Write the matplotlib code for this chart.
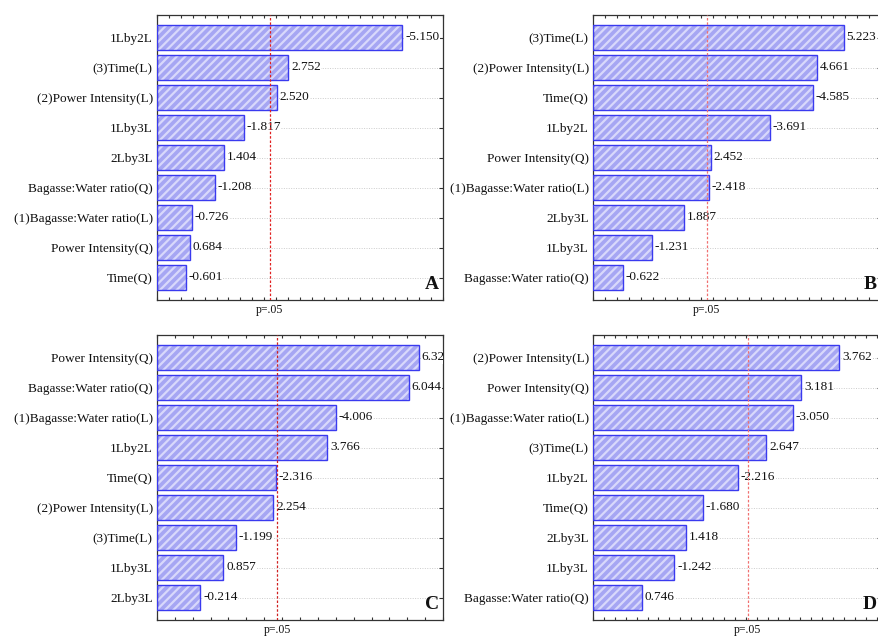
import numpy as np
import matplotlib
matplotlib.use("Agg")
import matplotlib.pyplot as plt

plt.rcParams['font.family'] = ['Liberation Serif', 'DejaVu Serif']
plt.rcParams['hatch.linewidth'] = 1.6

# Standardized effect estimates (signed) for the four responses
labels_a = ["1Lby2L", "(3)Time(L)", "(2)Power Intensity(L)", "1Lby3L", "2Lby3L",
            "Bagasse:Water ratio(Q)", "(1)Bagasse:Water ratio(L)", "Power Intensity(Q)", "Time(Q)"]
effects_a = [-5.150, 2.752, 2.520, -1.817, 1.404, -1.208, -0.726, 0.684, -0.601]

labels_b = ["(3)Time(L)", "(2)Power Intensity(L)", "Time(Q)", "1Lby2L", "Power Intensity(Q)",
            "(1)Bagasse:Water ratio(L)", "2Lby3L", "1Lby3L", "Bagasse:Water ratio(Q)"]
effects_b = [5.223, 4.661, -4.585, -3.691, 2.452, -2.418, 1.887, -1.231, -0.622]

labels_c = ["Power Intensity(Q)", "Bagasse:Water ratio(Q)", "(1)Bagasse:Water ratio(L)", "1Lby2L",
            "Time(Q)", "(2)Power Intensity(L)", "(3)Time(L)", "1Lby3L", "2Lby3L"]
effects_c = [6.328, 6.044, -4.006, 3.766, -2.316, 2.254, -1.199, 0.857, -0.214]

labels_d = ["(2)Power Intensity(L)", "Power Intensity(Q)", "(1)Bagasse:Water ratio(L)", "(3)Time(L)",
            "1Lby2L", "Time(Q)", "2Lby3L", "1Lby3L", "Bagasse:Water ratio(Q)"]
effects_d = [3.762, 3.181, -3.050, 2.647, -2.216, -1.680, 1.418, -1.242, 0.746]

p_crit = 2.365  # t critical value at p = .05

W, H = 879, 637
fig = plt.figure(figsize=(W / 100, H / 100), dpi=100)
fig.patch.set_facecolor('white')


def box(l, r, t, b):
    return [l / W, 1 - b / H, (r - l) / W, (b - t) / H]


panels = [
    ("A", labels_a, effects_a, (0, 6), 0.25, box(157, 443, 15, 300), '#e02020'),
    ("B", labels_b, effects_b, (0, 6), 0.25, box(593, 881, 15, 300), '#f07070'),
    ("C", labels_c, effects_c, (-1, 7), 0.5, box(157, 443, 335, 620), '#d02020'),
    ("D", labels_d, effects_d, (0, 4.4), 1 / 6, box(593, 881, 335, 620), '#f07070'),
]

face = '#a6a6f3'
edge = '#3a3aef'
hatch_col = '#d8d8fb'

for letter, labels, effects, xlim, tstep, pos, pcol in panels:
    ax = fig.add_axes(pos)
    n = len(labels)
    y = np.arange(n)
    mags = np.abs(effects)
    x0 = xlim[0]

    # grid lines behind bars
    for yi in y:
        ax.axhline(yi, color='#cccccc', lw=0.7, ls=(0, (1, 1.5)), zorder=0)

    ax.barh(y, mags - x0, left=x0, height=0.82, color=face, edgecolor='none', zorder=2)
    ax.barh(y, mags - x0, left=x0, height=0.82, color='none', edgecolor=hatch_col,
            hatch='////', lw=0, zorder=3)
    ax.barh(y, mags - x0, left=x0, height=0.82, color='none', edgecolor=edge, lw=1.0, zorder=4)

    for yi, m, v in zip(y, mags, effects):
        ax.annotate(f"{v:.3f}", xy=(m, yi), xytext=(2, 0), textcoords='offset points',
                    va='center', ha='left', fontsize=9.5, color='#111111', zorder=5,
                    annotation_clip=False, clip_on=True,
                    bbox=dict(facecolor='white', edgecolor='none', pad=0.3))

    ax.axvline(p_crit, color=pcol, lw=0.9, ls=(0, (2, 1.5)), zorder=6)

    ax.set_xlim(*xlim)
    ax.set_ylim(n - 0.25, -0.75)
    ax.set_yticks(y)
    ax.set_yticklabels(labels, fontsize=9.5, color='#111111')
    ticks = np.arange(xlim[0], xlim[1] + 1e-6, tstep)
    ax.set_xticks(ticks)
    ax.set_xticklabels([])
    ax.tick_params(axis='x', which='both', direction='in', length=2.5, width=0.8,
                   top=True, bottom=True, color='#333333')
    ax.tick_params(axis='y', which='both', direction='in', length=3, width=0.8,
                   left=True, right=True, color='#333333', pad=3)
    for s in ax.spines.values():
        s.set_color('#333333')
        s.set_linewidth(0.9)

    ax.text(0.985, 0.025, letter, transform=ax.transAxes, ha='right', va='bottom',
            fontsize=14, fontweight='bold', color='#111111', zorder=7)
    ax.annotate("p=.05", xy=(p_crit, 0), xycoords=('data', 'axes fraction'),
                xytext=(0, -3), textcoords='offset points', ha='center', va='top',
                fontsize=8.5, color='#111111', annotation_clip=False)

fig.savefig("out.png", dpi=100)
